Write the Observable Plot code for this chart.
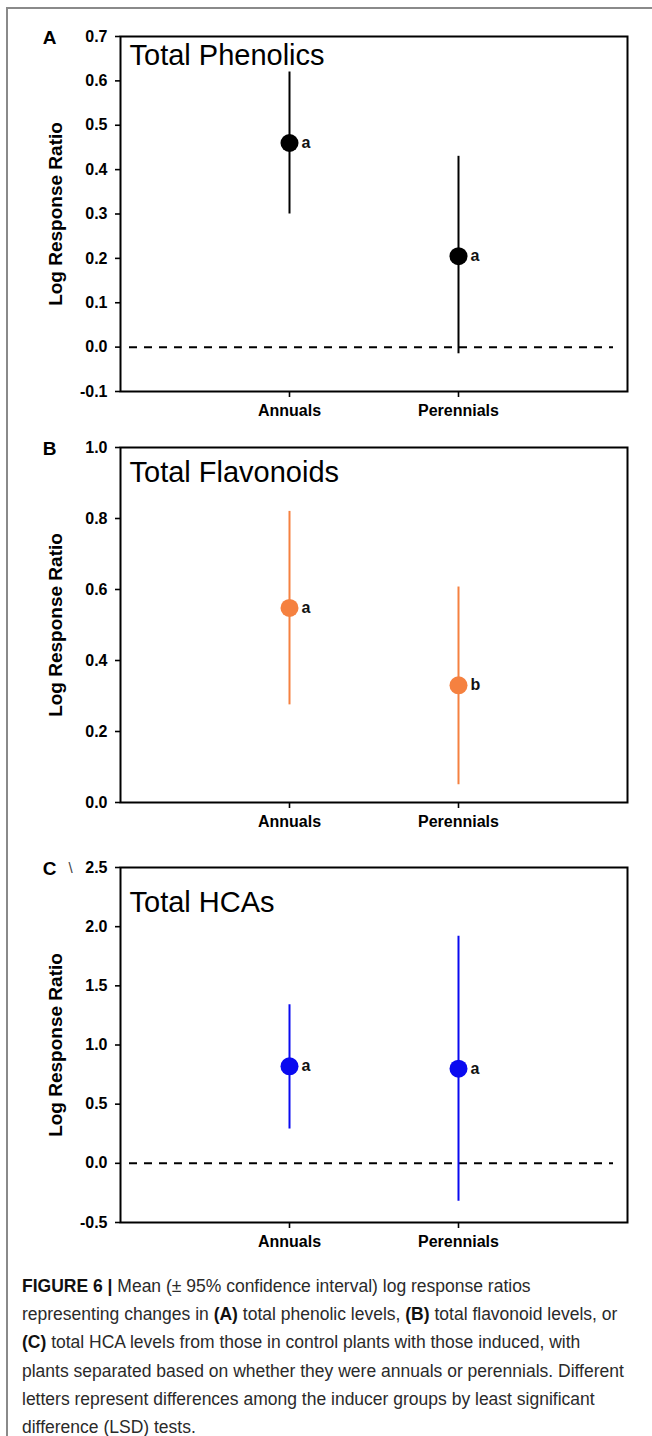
<!DOCTYPE html>
<html>
<head>
<meta charset="utf-8">
<script src="https://cdn.jsdelivr.net/npm/d3@7"></script>
<script src="https://cdn.jsdelivr.net/npm/@observablehq/plot@0.6"></script>
<style>
  html, body { margin: 0; padding: 0; background: white; }
  #page { position: relative; width: 652px; height: 1436px; overflow: hidden; background: white; font-family: "Liberation Sans", Arial, sans-serif; }
  #border { position: absolute; left: 6px; top: 7px; width: 660px; height: 1440px; border-top: 2px solid #8a8a8a; border-left: 2px solid #8a8a8a; }
  .panel { position: absolute; left: 0; }
  .panel svg { overflow: visible; }
  #caption { position: absolute; left: 22px; top: 1272px; font-size: 17.5px; line-height: 28.2px; color: #2a2a2a; white-space: nowrap; }
  #caption b { color: #111; }
</style>
</head>
<body>
<div id="page">
  <div id="border"></div>
  <div id="pA" class="panel" style="top:0px"></div>
  <div id="pB" class="panel" style="top:411px"></div>
  <div id="pC" class="panel" style="top:831px"></div>
  <div id="caption"><b>FIGURE 6 |</b> Mean (± 95% confidence interval) log response ratios<br>representing changes in <b>(A)</b> total phenolic levels, <b>(B)</b> total flavonoid levels, or<br><b>(C)</b> total HCA levels from those in control plants with those induced, with<br>plants separated based on whether they were annuals or perennials. Different<br>letters represent differences among the inducer groups by least significant<br>difference (LSD) tests.</div>
</div>
<script>
// ---- data ----
const categories = ["Annuals", "Perennials"];

const phenolicsMean = [0.46, 0.205];
const phenolicsLow = [0.30, -0.015];
const phenolicsHigh = [0.62, 0.43];
const phenolicsLetters = ["a", "a"];
const phenolicsTicks = [-0.1, 0.0, 0.1, 0.2, 0.3, 0.4, 0.5, 0.6, 0.7];

const flavonoidsMean = [0.548, 0.33];
const flavonoidsLow = [0.275, 0.05];
const flavonoidsHigh = [0.82, 0.607];
const flavonoidsLetters = ["a", "b"];
const flavonoidsTicks = [0.0, 0.2, 0.4, 0.6, 0.8, 1.0];

const hcaMean = [0.82, 0.80];
const hcaLow = [0.29, -0.32];
const hcaHigh = [1.34, 1.92];
const hcaLetters = ["a", "a"];
const hcaTicks = [-0.5, 0.0, 0.5, 1.0, 1.5, 2.0, 2.5];

const panelLetters = ["A", "B", "C"];
const panelTitles = ["Total Phenolics", "Total Flavonoids", "Total HCAs"];
const yLabel = "Log Response Ratio";

function makePanel({letter, title, mean, low, high, letters, ticks, color, titleDy, zeroLine, artifact}) {
  const data = categories.map((c, i) => ({cat: c, mean: mean[i], low: low[i], high: high[i], letter: letters[i]}));
  const font = "Liberation Sans, Arial, sans-serif";
  const marks = [
    Plot.axisY({ticks, tickFormat: d => d.toFixed(1), tickSize: 5, tickPadding: 8, fontSize: 16, fontWeight: "bold", strokeWidth: 1.6, label: null}),
    Plot.axisX({tickSize: 6, tickPadding: 7, fontSize: 16, fontWeight: "bold", strokeWidth: 1.6, label: null}),
  ];
  if (zeroLine) {
    marks.push(Plot.ruleY([0], {stroke: "black", strokeWidth: 2, strokeDasharray: "8,7", insetLeft: 9, insetRight: 14}));
  }
  marks.push(
    Plot.ruleX(data, {x: "cat", y1: "low", y2: "high", stroke: color, strokeWidth: 2}),
    Plot.dot(data, {x: "cat", y: "mean", r: 9, fill: color, stroke: "none"}),
    Plot.text(data, {x: "cat", y: "mean", text: "letter", dx: 12, textAnchor: "start", fontSize: 16, fontWeight: "bold", fill: "#111"}),
    Plot.frame({stroke: "black", strokeWidth: 2}),
    Plot.text([title], {text: d => d, frameAnchor: "top-left", dx: 9, dy: titleDy, textAnchor: "start", lineAnchor: "middle", fontSize: 29, fill: "black"}),
    Plot.text([letter], {text: d => d, frameAnchor: "top-left", dx: -71, dy: 1, textAnchor: "middle", lineAnchor: "middle", fontSize: 19, fontWeight: "bold", fill: "black"}),
    Plot.text([yLabel], {text: d => d, frameAnchor: "left", dx: -65, rotate: -90, textAnchor: "middle", lineAnchor: "middle", fontSize: 19, fontWeight: "bold", fill: "black"})
  );
  if (artifact) {
    marks.push(Plot.text([artifact], {text: d => d, frameAnchor: "top-left", dx: -50, dy: 1, textAnchor: "middle", lineAnchor: "middle", fontSize: 15, fill: "#444"}));
  }
  return Plot.plot({
    width: 652,
    height: 431,
    marginLeft: 120,
    marginRight: 25,
    marginTop: 36,
    marginBottom: 40,
    style: {background: "none", fontFamily: font, color: "black", overflow: "visible"},
    x: {type: "point", domain: categories, padding: 1},
    y: {domain: [ticks[0], ticks[ticks.length - 1]]},
    marks
  });
}

document.getElementById("pA").appendChild(makePanel({
  letter: panelLetters[0], title: panelTitles[0],
  mean: phenolicsMean, low: phenolicsLow, high: phenolicsHigh, letters: phenolicsLetters,
  ticks: phenolicsTicks, color: "black", titleDy: 19, zeroLine: true
}));
document.getElementById("pB").appendChild(makePanel({
  letter: panelLetters[1], title: panelTitles[1],
  mean: flavonoidsMean, low: flavonoidsLow, high: flavonoidsHigh, letters: flavonoidsLetters,
  ticks: flavonoidsTicks, color: "#f58140", titleDy: 25, zeroLine: false
}));
document.getElementById("pC").appendChild(makePanel({
  letter: panelLetters[2], title: panelTitles[2],
  mean: hcaMean, low: hcaLow, high: hcaHigh, letters: hcaLetters,
  ticks: hcaTicks, color: "#0a0af0", titleDy: 35, zeroLine: true, artifact: "\\"
}));
</script>
</body>
</html>
